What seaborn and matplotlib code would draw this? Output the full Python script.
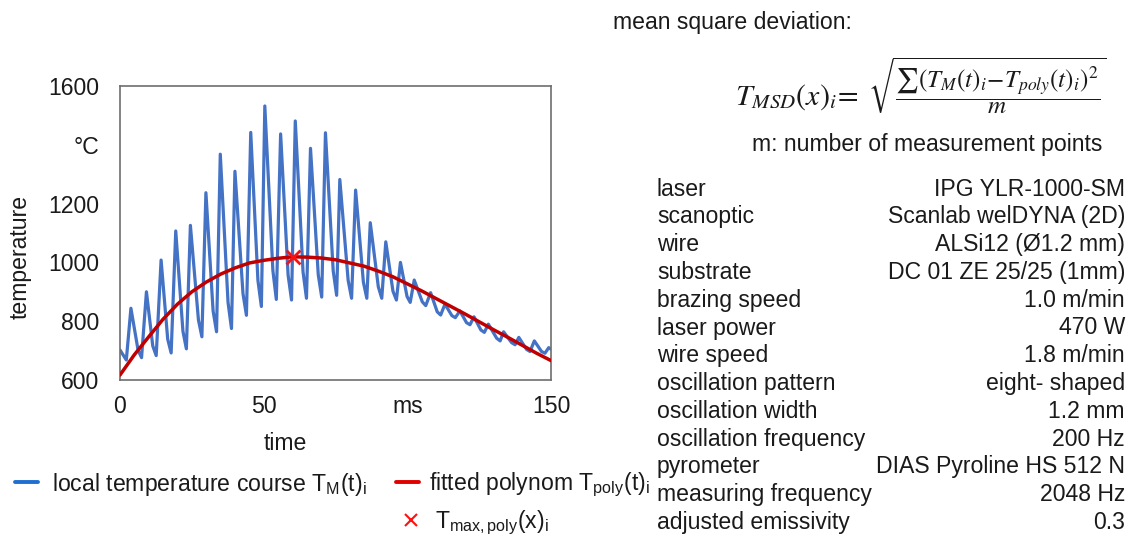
import matplotlib
matplotlib.use("Agg")
import matplotlib.pyplot as plt
import seaborn as sns
import pandas as pd
from matplotlib.lines import Line2D

# ---------------- data ----------------
meas_time_ms = [0.0,
    2.2, 3.8, 6.3,
    7.5, 9.2, 11.4,
    12.6, 14.3, 16.6,
    17.8, 19.4, 21.9,
    23.1, 24.5, 27.3,
    28.5, 29.9, 32.4,
    33.6, 34.9, 37.6,
    38.8, 40.0, 42.8,
    44.0, 45.5, 48.0,
    49.2, 50.4, 53.2,
    54.4, 55.9, 58.5,
    59.7, 61.0, 63.7,
    64.9, 66.3, 69.0,
    70.2, 71.5, 74.2,
    75.4, 76.5, 79.4,
    80.6, 82.0, 84.7,
    85.9, 87.1, 89.9,
    91.1, 92.5, 95.0,
    96.2, 97.6, 99.9,
    101.0, 102.4, 105.2,
    106.4, 108.1, 110.4,
    111.6, 113.1, 115.5,
    116.7, 118.3, 120.6,
    121.8, 123.2, 125.6,
    126.8, 128.2, 131.1,
    132.3, 133.5, 136.3,
    137.5, 138.8, 141.5,
    142.7, 144.2, 146.7,
    147.9, 149.2, 150.0]
meas_temp_c = [702,
    668, 844, 701,
    676, 900, 716,
    683, 1008, 739,
    692, 1107, 766,
    706, 1126, 804,
    747, 1237, 835,
    764, 1368, 864,
    775, 1310, 894,
    820, 1442, 939,
    850, 1532, 973,
    874, 1437, 957,
    872, 1481, 968,
    878, 1388, 958,
    882, 1441, 971,
    888, 1282, 939,
    878, 1246, 933,
    878, 1135, 917,
    878, 1070, 902,
    872, 1000, 884,
    864, 940, 866,
    853, 897, 832,
    821, 858, 819,
    812, 835, 795,
    788, 815, 770,
    762, 790, 742,
    733, 764, 727,
    720, 745, 704,
    697, 733, 697,
    691, 710, 705]

poly_time_ms = [0, 5, 10, 15, 20, 25, 30, 35, 40, 45, 50, 55, 60, 65, 70, 75,
                80, 85, 90, 95, 100, 105, 110, 115, 120, 125, 130, 135, 140, 145, 150]
poly_temp_c = [617, 686, 747, 807, 858, 900, 933, 960, 981, 998, 1007, 1014, 1019, 1018,
               1015, 1009, 998, 987, 970, 951, 927, 903, 877, 851, 825, 798, 771, 745,
               718, 691, 666]

tmax_time_ms = [60.3]
tmax_temp_c = [1019]

y_ticks = [600, 800, 1000, 1200, 1400, 1600]
y_tick_labels = ["600", "800", "1000", "1200", "°C", "1600"]
x_ticks = [0, 50, 100, 150]
x_tick_labels = ["0", "50", "ms", "150"]

param_names = ["laser", "scanoptic", "wire", "substrate", "brazing speed", "laser power",
               "wire speed", "oscillation pattern", "oscillation width",
               "oscillation frequency", "pyrometer", "measuring frequency",
               "adjusted emissivity"]
param_values = ["IPG YLR-1000-SM", "Scanlab welDYNA (2D)", "ALSi12 (Ø1.2 mm)",
                "DC 01 ZE 25/25 (1mm)", "1.0 m/min", "470 W", "1.8 m/min",
                "eight- shaped", "1.2 mm", "200 Hz", "DIAS Pyroline HS 512 N",
                "2048 Hz", "0.3"]

# ---------------- style ----------------
sns.set_theme(style="white")
plt.rcParams["font.family"] = ["Liberation Sans", "DejaVu Sans"]
plt.rcParams["mathtext.fontset"] = "stix"
TXT = "#1a1a1a"
FS = 16.6

W, H = 1129, 534
fig = plt.figure(figsize=(W / 100, H / 100), dpi=100)
fig.patch.set_facecolor("white")


def fx(x):
    return x / W


def fy(y):
    return 1 - y / H


ax = fig.add_axes([fx(120), fy(380), 431 / W, 294 / H])
ax.set_facecolor("white")

df_meas = pd.DataFrame({"t": meas_time_ms, "T": meas_temp_c})
df_poly = pd.DataFrame({"t": poly_time_ms, "T": poly_temp_c})
df_max = pd.DataFrame({"t": tmax_time_ms, "T": tmax_temp_c})

sns.lineplot(data=df_meas, x="t", y="T", ax=ax, color="#4472C4", linewidth=2.3,
             solid_joinstyle="round", legend=False, zorder=2)
sns.lineplot(data=df_poly, x="t", y="T", ax=ax, color="#C00000", linewidth=2.5,
             legend=False, zorder=3)
sns.scatterplot(data=df_max, x="t", y="T", ax=ax, marker="x", s=100, color="#FF1010",
                linewidth=2.0, legend=False, zorder=4)

ax.set_xlim(0, 150)
ax.set_ylim(600, 1600)
ax.set_xticks(x_ticks)
ax.set_xticklabels(x_tick_labels)
ax.set_yticks(y_ticks)
ax.set_yticklabels(y_tick_labels)
ax.tick_params(axis="both", direction="in", length=5, width=1.0, color="#595959",
               labelsize=FS, labelcolor=TXT)
ax.tick_params(axis="x", pad=11)
ax.tick_params(axis="y", pad=15)
for sp in ax.spines.values():
    sp.set_visible(True)
    sp.set_color("#6e6e6e")
    sp.set_linewidth(1.2)

ax.set_xlabel("time", fontsize=FS, color=TXT)
ax.set_ylabel("temperature", fontsize=FS, color=TXT)
ax.xaxis.set_label_coords((285 - 120) / 431, (380 - 443) / 294)
ax.xaxis.label.set_va("center")
ax.yaxis.set_label_coords((20 - 120) / 431, (380 - 257) / 294)
ax.yaxis.label.set_va("center")
ax.yaxis.label.set_ha("center")

# ---------------- legend ----------------
common = dict(loc="center left", frameon=False, fontsize=FS, borderpad=0,
              borderaxespad=0, handlelength=1.0)
fig.legend(handles=[Line2D([], [], color="#1F6FD0", lw=2.8)],
           labels=[r"local temperature course T$_\mathregular{M}$(t)$_\mathregular{i}$"],
           bbox_to_anchor=(fx(15), fy(484)), handletextpad=0.6, labelcolor=TXT, **common)
fig.legend(handles=[Line2D([], [], color="#E00000", lw=2.8)],
           labels=[r"fitted polynom T$_\mathregular{poly}$(t)$_\mathregular{i}$"],
           bbox_to_anchor=(fx(396), fy(484)), handletextpad=0.45, labelcolor=TXT, **common)
fig.legend(handles=[Line2D([], [], ls="none", marker="x", color="#FF1010",
                           markersize=8, markeredgewidth=1.5)],
           labels=[r"T$_\mathregular{max,poly}$(x)$_\mathregular{i}$"],
           bbox_to_anchor=(fx(399), fy(522)), handletextpad=0.55, labelcolor=TXT, **common)

# ---------------- formula block ----------------
fig.text(fx(613), fy(22), "mean square deviation:", fontsize=FS, color=TXT,
         ha="left", va="center")
fig.text(fx(735), fy(97), r"$T_{MSD}(x)_i\!=$", fontsize=21.5, color=TXT,
         ha="left", va="center")
fig.text(fx(868), fy(86),
         r"$\sqrt{\dfrac{\sum\left(T_M(t)_i\!-\!T_{poly}(t)_i\right)^2}{m}}$",
         fontsize=18, color=TXT, ha="left", va="center")
fig.text(fx(1102), fy(145), "m: number of measurement points", fontsize=FS, color=TXT,
         ha="right", va="center")

# ---------------- parameter table ----------------
for i, (n, v) in enumerate(zip(param_names, param_values)):
    y = 189 + 27.8 * i
    fig.text(fx(657), fy(y), n, fontsize=FS, color=TXT, ha="left", va="center")
    fig.text(fx(1125), fy(y), v, fontsize=FS, color=TXT, ha="right", va="center")

fig.savefig("out.png", dpi=100, facecolor="white")
